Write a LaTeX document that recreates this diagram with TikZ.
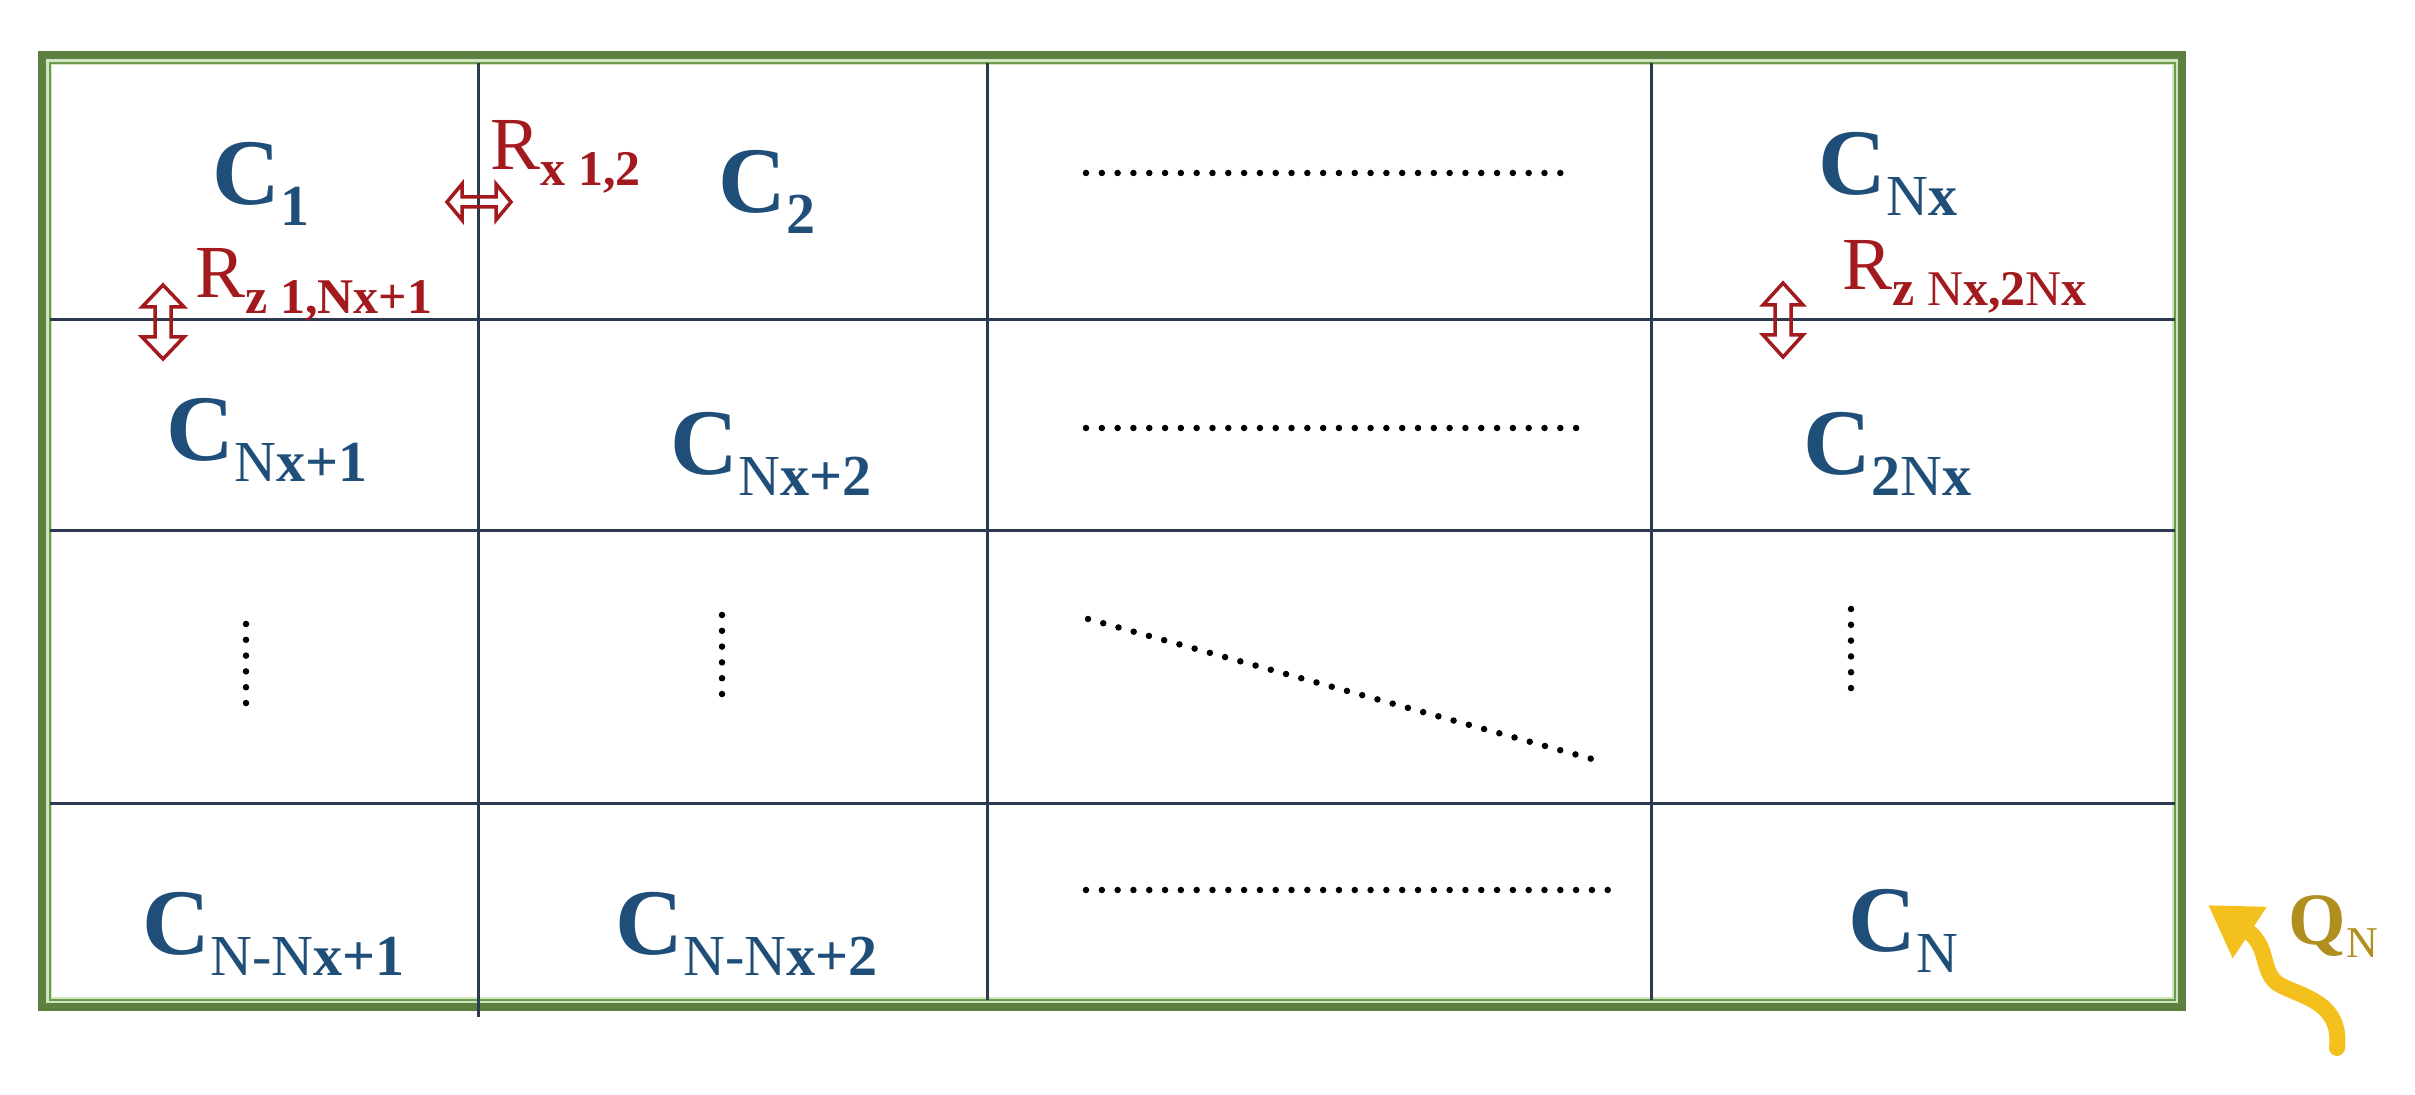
\documentclass[tikz,border=0pt]{standalone}
\usepackage{fontspec}
\setmainfont{Liberation Serif}
\usetikzlibrary{arrows.meta}
\definecolor{cblue}{HTML}{1F4E79}
\definecolor{rred}{HTML}{A31A1E}
\definecolor{gridc}{HTML}{2B3A4E}
\definecolor{fgreen}{HTML}{5B8040}
\definecolor{fthin}{HTML}{6C9A4C}
\definecolor{flight}{HTML}{D2E5C3}
\definecolor{qgold}{HTML}{B08F1F}
\definecolor{qyel}{HTML}{F4C01E}
\newcommand\nN{{\mdseries N}}
\newcommand\Clab[1]{{\fontsize{26.7}{30}\selectfont\bfseries C}\raisebox{-5.7pt}{\fontsize{16.5}{18}\selectfont\bfseries #1}}
\newcommand\Rlab[1]{{\fontsize{21.3}{24}\selectfont R}\raisebox{-4.5pt}{\fontsize{14.2}{16}\selectfont\bfseries #1}}
\tikzset{
  gridline/.style={draw=gridc, line width=0.03cm},
  clabel/.style={anchor=base west, inner sep=0pt, text=cblue},
  rlabel/.style={anchor=base west, inner sep=0pt, text=rred},
  dotline/.style={line width=0.065cm, line cap=round, dash pattern=on 0pt off 0.158cm},
  hollow/.style={draw=rred, line width=0.035cm, line join=miter},
}
\begin{document}
\begin{tikzpicture}[x=0.01cm,y=-0.01cm]
\useasboundingbox (0,0) rectangle (2415,1095);
\fill[white] (0,0) rectangle (2415,1095);
% frame
\draw[flight, line width=0.12cm] (46,59) rectangle (2178,1003);
\draw[fgreen, line width=0.08cm] (42,55) rectangle (2182,1007);
\draw[fthin, line width=0.025cm] (50,63) rectangle (2175,1000);
% grid
\draw[gridline] (478,63) -- (478,1017);
\draw[gridline] (987,63) -- (987,1000);
\draw[gridline] (1651,63) -- (1651,1000);
\draw[gridline] (50,320) -- (2175,320);
\draw[gridline] (50,531) -- (2175,531);
\draw[gridline] (50,804) -- (2175,804);
% cell labels
\node[clabel] (c1) at (212,205) {\Clab{1}};
\node[clabel] (c2) at (718,213) {\Clab{2}};
\node[clabel] (cnx) at (1818,195) {\Clab{\nN x}};
\node[clabel] (cnx1) at (166,461) {\Clab{\nN x+1}};
\node[clabel] (cnx2) at (670,475) {\Clab{\nN x+2}};
\node[clabel] (c2nx) at (1803,475) {\Clab{2\nN x}};
\node[clabel] (cnnx1) at (142,955) {\Clab{\nN{\mdseries -}\nN x+1}};
\node[clabel] (cnnx2) at (615,955) {\Clab{\nN{\mdseries -}\nN x+2}};
\node[clabel] (cn) at (1848,952) {\Clab{\nN}};
% resistance labels
\node[rlabel] (rx) at (490,170) {\Rlab{x 1,2}};
\node[rlabel] (rz1) at (195,298) {\Rlab{z 1,Nx+1}};
\node[rlabel] (rz2) at (1842,290) {\Rlab{z \nN x,2\nN x}};
% hollow double arrows
\draw[hollow, shift={(479,202)}] (-32,0) -- (-17,-18) -- (-17,-5) -- (17,-5) -- (17,-18) -- (32,0) -- (17,18) -- (17,5) -- (-17,5) -- (-17,18) -- cycle;
\draw[hollow, shift={(163,322)}] (0,-37) -- (21,-15) -- (8,-15) -- (8,15) -- (21,15) -- (0,37) -- (-21,15) -- (-8,15) -- (-8,-15) -- (-21,-15) -- cycle;
\draw[hollow, shift={(1783,320)}] (0,-37) -- (20,-15) -- (8,-15) -- (8,15) -- (20,15) -- (0,37) -- (-20,15) -- (-8,15) -- (-8,-15) -- (-20,-15) -- cycle;
% dotted lines
\draw[dotline] (1086,173) -- (1566,173);
\draw[dotline] (1086,428) -- (1582,428);
\draw[dotline] (1086,890) -- (1612,890);
\draw[dotline] (1088,619) -- (1592,759);
\draw[dotline] (246,624) -- (246,706);
\draw[dotline] (722,615) -- (722,697);
\draw[dotline] (1851,609) -- (1851,691);
% heat flux
\draw[qyel, line width=0.16cm, line cap=round, -{Triangle[length=0.5cm, width=0.58cm]}]
  (2337,1048) .. controls (2342,1002) and (2302,997) .. (2280,985)
  .. controls (2260,974) and (2270,946) .. (2208,905);
\node[anchor=base west, inner sep=0pt, text=qgold] (qn) at (2288,945)
  {{\fontsize{21}{23}\selectfont\bfseries Q}\raisebox{-3.5pt}{\fontsize{12.5}{14}\selectfont N}};
\end{tikzpicture}
\end{document}
